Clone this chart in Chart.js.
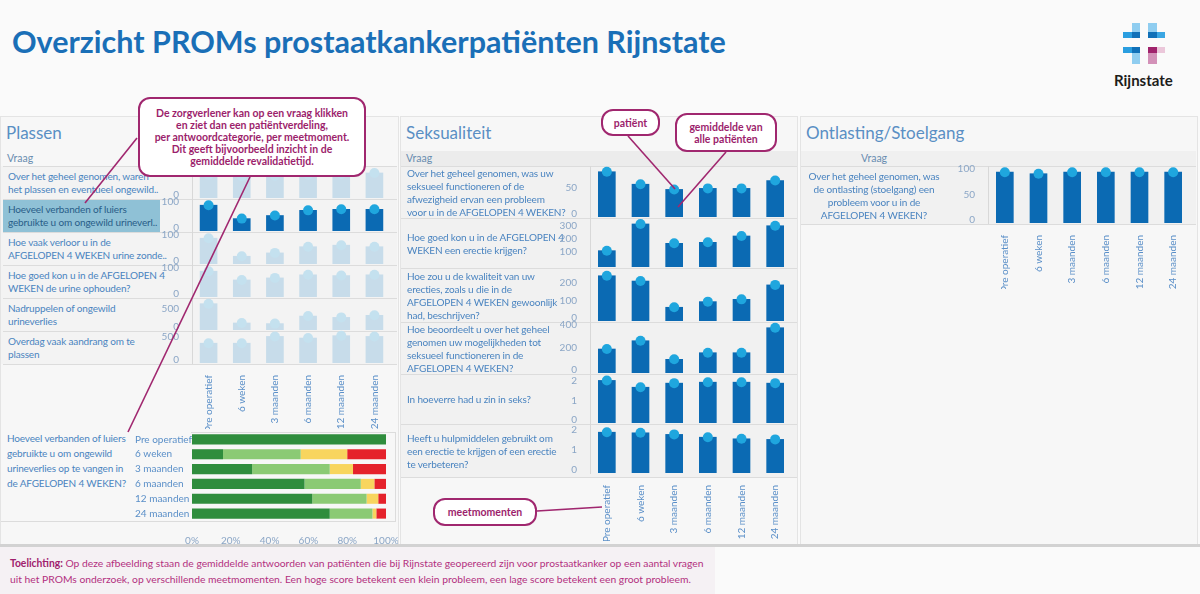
<!DOCTYPE html>
<html lang="nl">
<head>
<meta charset="utf-8">
<title>Overzicht PROMs prostaatkankerpatiënten Rijnstate</title>
<script src="https://cdn.jsdelivr.net/npm/chart.js@4.4.1/dist/chart.umd.min.js"></script>
<style>
  html, body { margin: 0; padding: 0; }
  body { width: 1200px; height: 594px; overflow: hidden; background: #fafafa; font-family: Lato, "Open Sans", sans-serif; }
  #board { position: relative; width: 1200px; height: 594px; }
  .q { display: flex; align-items: center; box-sizing: border-box; font-size: 10px; letter-spacing: -0.15px; line-height: 13px; color: #4a84c0; white-space: nowrap; }
  .callout { box-sizing: border-box; border: 2px solid #a0276f; border-radius: 12px; background: #fff; color: #9c1e6c;
             font-weight: bold; font-size: 10.5px; line-height: 12px; text-align: center; display: flex; align-items: center; justify-content: center; }
</style>
</head>
<body>
<div id="board"></div>
<script>
// meetmomenten (x-as)
const meetmomenten = ['Pre operatief', '6 weken', '3 maanden', '6 maanden', '12 maanden', '24 maanden'];

// Plassen - gemiddelde per meetmoment
const plassenAlgemeen    = [90, 84, 86, 90, 92, 97];
const plassenVerbanden   = [100, 48, 60, 80, 84, 84];
const plassenVerloor     = [100, 30, 43, 67, 73, 67];
const plassenOphouden    = [100, 66, 74, 86, 83, 86];
const plassenNadruppelen = [716, 191, 174, 379, 343, 399];
const plassenAandrang    = [427, 427, 573, 538, 589, 573];

// Seksualiteit
const seksProbleem      = [87, 63, 53, 55, 55, 70];
const seksErectie       = [129, 340, 187, 195, 245, 326];
const seksKwaliteit     = [257, 227, 78, 110, 123, 205];
const seksMogelijkheden = [214, 288, 122, 181, 181, 404];
const seksZin           = [2.19, 1.84, 2.05, 2.1, 2.1, 2.05];
const seksHulpmiddelen  = [2.04, 2.01, 1.93, 1.79, 1.71, 1.68];

// Ontlasting/Stoelgang
const ontlastingProbleem = [99, 96, 99, 99, 99, 99];

// patiëntverdeling verbanden/luiers (%)
const verbandenGeen       = [100, 16, 31, 58, 62, 71];
const verbandenEen        = [0, 40, 40, 29, 28, 22];
const verbandenTwee       = [0, 24, 12, 7, 6, 2];
const verbandenDrieOfMeer = [0, 20, 17, 6, 4, 5];

// tick labels
const ticks100  = [0, 100];
const ticks500  = [0, 500];
const ticks50   = [0, 50];
const ticks300  = [100, 200, 300];
const ticks200  = [0, 100, 200];
const ticks400  = [0, 200, 400];
const ticks2    = [0, 1, 2];
const ticks50b  = [0, 50, 100];
const procent   = [0, 20, 40, 60, 80, 100];

const board = document.getElementById('board');
function el(css, html, cls) {
  const e = document.createElement('div');
  e.style.cssText = 'position:absolute;' + css;
  if (cls) e.className = cls;
  if (html != null) e.innerHTML = html;
  board.appendChild(e);
  return e;
}
// schaal lettergrootte zodat de tekst de breedte uit het origineel krijgt
function fitWidth(e, w) {
  const fs = parseFloat(getComputedStyle(e).fontSize);
  const nw = e.getBoundingClientRect().width;
  const nfs = fs * w / nw;
  e.style.fontSize = nfs + 'px';
  return nfs;
}

// ---- header ----
const title = el('left:12px;top:26px;font-weight:bold;font-size:30px;line-height:30px;color:#1a6fb7;white-space:nowrap;',
   'Overzicht PROMs prostaatkankerpatiënten Rijnstate');
fitWidth(title, 714);

// logo
const logoParts = [
  [1123, 32, 9, 5.5, '#2a9ee0'], [1132, 23, 8, 9, '#8fcdf0'], [1132, 32, 8, 5.5, '#1070b8'],
  [1148, 23, 8.5, 9, '#8fcdf0'], [1156.5, 32, 8.5, 5.5, '#3aa6e3'], [1148, 32, 8.5, 5.5, '#1070b8'],
  [1123, 47, 9, 5.5, '#2a9ee0'], [1132, 52.5, 8, 11, '#8fcdf0'], [1132, 47, 8, 5.5, '#1070b8'],
  [1148, 52.5, 8.5, 11, '#d391b8'], [1156.5, 47, 8.5, 5.5, '#ebc7da'], [1148, 47, 8.5, 5.5, '#a0226c']
];
logoParts.forEach(p => el(`left:${p[0]}px;top:${p[1]}px;width:${p[2]}px;height:${p[3]}px;background:${p[4]};`));
el('left:1114px;top:72px;font-weight:bold;font-size:15px;line-height:17px;color:#1d1d1b;', 'Rijnstate');

// ---- panels ----
el('left:0;top:116px;width:397px;height:428px;background:#f7f7f7;border:1px solid #e4e4e4;');
el('left:400px;top:116px;width:396px;height:428px;background:#f7f7f7;border:1px solid #e4e4e4;');
el('left:800px;top:116px;width:396px;height:428px;background:#f7f7f7;border:1px solid #e4e4e4;');

el('left:401px;top:151px;width:396px;height:15px;background:#ececec;');
el('left:401px;top:166px;width:396px;height:311px;background:#f1f1f1;');
el('left:801px;top:151px;width:395px;height:15px;background:#f0f0f0;');
el('left:801px;top:166px;width:395px;height:58px;background:#f1f1f1;');
el('left:1px;top:166px;width:396px;height:198px;background:#f3f3f3;');

el('left:6px;top:125px;font-size:17px;line-height:16px;color:#5a8fc4;', 'Plassen');
el('left:406px;top:125px;font-size:17px;line-height:16px;color:#5a8fc4;', 'Seksualiteit');
el('left:806px;top:125px;font-size:17px;line-height:16px;color:#5a8fc4;', 'Ontlasting/Stoelgang');
el('left:7px;top:152px;font-size:10.5px;line-height:13px;color:#6a8db0;', 'Vraag');
el('left:406px;top:152px;font-size:10.5px;line-height:13px;color:#6a8db0;', 'Vraag');
el('left:800px;top:152px;width:148px;text-align:center;font-size:10.5px;line-height:13px;color:#6a8db0;', 'Vraag');

// ---- mini bar charts ----
function miniBar(o) {
  const padTop = 8, padBot = 8;
  const areaH = o.bottom - o.top;
  const h = padTop + areaH + (o.xH ? o.xH : padBot);
  const cv = document.createElement('canvas');
  cv.width = o.plotRight - o.axisLeft;
  cv.height = h;
  cv.style.cssText = `position:absolute;left:${o.axisLeft}px;top:${o.top - padTop}px;`;
  board.appendChild(cv);
  const bar = o.faded ? '#c7dcea' : '#0b6ab3';
  const dot = o.faded ? '#c4e1ef' : '#1fa6de';
  new Chart(cv, {
    type: 'bar',
    data: {
      labels: meetmomenten,
      datasets: [
        { type: 'line', data: o.data, showLine: false, pointRadius: 5, pointHoverRadius: 5,
          pointBackgroundColor: dot, pointBorderWidth: 0, clip: false, order: 0 },
        { data: o.data, backgroundColor: bar, barThickness: 17, order: 1 }
      ]
    },
    options: {
      responsive: false, animation: false, devicePixelRatio: 1,
      layout: { padding: { top: padTop, bottom: o.xH ? 0 : padBot, left: 0, right: 0 } },
      plugins: { legend: { display: false }, tooltip: { enabled: false } },
      scales: {
        x: {
          display: !!o.xH, offset: true, grid: { display: false }, border: { display: false },
          ticks: { color: '#5a8fc8', font: { family: 'Lato', size: 10 }, minRotation: 90, maxRotation: 90, padding: 4, autoSkip: false },
          afterFit(s) { s.height = o.xH || 0; s.paddingLeft = 0; s.paddingRight = 0; }
        },
        y: {
          min: 0, max: o.max, grid: { display: false }, border: { display: true, color: '#d8d8d8' },
          ticks: { color: '#8ba6c6', font: { family: 'Lato', size: 10 }, padding: 5, labelOffset: -3 },
          afterBuildTicks(s) { s.ticks = o.ticks.map(v => ({ value: v })); },
          afterFit(s) { s.width = o.plotLeft - o.axisLeft; s.paddingTop = 0; s.paddingBottom = 0; }
        }
      }
    }
  });
}

function rowLine(x, y, w) { el(`left:${x}px;top:${y}px;width:${w}px;height:1px;background:#dcdcdc;`); }

// Plassen
const plassenVragen = [
  'Over het geheel genomen, waren<br>het plassen en eventueel ongewild..',
  'Hoeveel verbanden of luiers<br>gebruikte u om ongewild urineverl..',
  'Hoe vaak verloor u in de<br>AFGELOPEN 4 WEKEN urine zonde..',
  'Hoe goed kon u in de AFGELOPEN 4<br>WEKEN de urine ophouden?',
  'Nadruppelen of ongewild<br>urineverlies',
  'Overdag vaak aandrang om te<br>plassen'
];
const plassenData  = [plassenAlgemeen, plassenVerbanden, plassenVerloor, plassenOphouden, plassenNadruppelen, plassenAandrang];
const plassenMax   = [124, 124, 124, 124, 870, 690];
const plassenTicks = [ticks100, ticks100, ticks100, ticks100, ticks500, ticks500];
const plassenGrens = [166, 199, 232, 265, 298, 331, 364];

plassenGrens.forEach(y => rowLine(3, y, 394));
plassenVragen.forEach((q, i) => {
  const t = plassenGrens[i], b = plassenGrens[i + 1];
  const hl = i === 1;
  el(`left:3px;top:${t + 1}px;width:157px;height:${b - t - 1}px;padding-left:5px;` +
     (hl ? 'background:#8fc1d6;color:#285d88;' : ''), q, 'q');
});
plassenData.forEach((d, i) => {
  const last = i === plassenData.length - 1;
  miniBar({ axisLeft: 160, plotLeft: 192, plotRight: 396, top: plassenGrens[i], bottom: plassenGrens[i + 1] - 1,
            data: d, max: plassenMax[i], ticks: plassenTicks[i], faded: i !== 1, xH: last ? 66 : 0 });
});

// Seksualiteit
const seksVragen = [
  'Over het geheel genomen, was uw<br>seksueel functioneren of de<br>afwezigheid ervan een probleem<br>voor u in de AFGELOPEN 4 WEKEN?',
  'Hoe goed kon u in de AFGELOPEN 4<br>WEKEN een erectie krijgen?',
  'Hoe zou u de kwaliteit van uw<br>erecties, zoals u die in de<br>AFGELOPEN 4 WEKEN gewoonlijk<br>had, beschrijven?',
  'Hoe beoordeelt u over het geheel<br>genomen uw mogelijkheden tot<br>seksueel functioneren in de<br>AFGELOPEN 4 WEKEN?',
  'In hoeverre had u zin in seks?',
  'Heeft u hulpmiddelen gebruikt om<br>een erectie te krijgen of een erectie<br>te verbeteren?'
];
const seksData  = [seksProbleem, seksErectie, seksKwaliteit, seksMogelijkheden, seksZin, seksHulpmiddelen];
const seksMax   = [98, 387, 301, 455, 2.52, 2.45];
const seksTicks = [ticks50, ticks300, ticks200, ticks400, ticks2, ticks2];
const seksGrens = [166, 218, 268, 322, 374, 424, 477];

seksGrens.forEach(y => rowLine(401, y, 396));
seksVragen.forEach((q, i) => {
  const t = seksGrens[i], b = seksGrens[i + 1];
  el(`left:402px;top:${t + 1}px;width:168px;height:${b - t - 1}px;padding-left:5px;`, q, 'q');
});
seksData.forEach((d, i) => {
  const last = i === seksData.length - 1;
  const b = last ? 473 : seksGrens[i + 1] - 1;
  miniBar({ axisLeft: 560, plotLeft: 590, plotRight: 797, top: seksGrens[i], bottom: b,
            data: d, max: seksMax[i], ticks: seksTicks[i], faded: false, xH: last ? 72 : 0 });
});

// Ontlasting
rowLine(801, 166, 395);
rowLine(801, 224, 395);
el('left:800px;top:167px;width:148px;height:57px;justify-content:center;text-align:center;',
   'Over het geheel genomen, was<br>de ontlasting (stoelgang) een<br>probleem voor u in de<br>AFGELOPEN 4 WEKEN?', 'q');
miniBar({ axisLeft: 955, plotLeft: 988, plotRight: 1195, top: 166, bottom: 223,
          data: ontlastingProbleem, max: 111, ticks: ticks50b, faded: false, xH: 66 });

// ---- patiëntverdeling ----
el('left:191px;top:432px;width:204px;height:1px;background:#dcdcdc;');
el('left:395px;top:432px;width:1px;height:90px;background:#dcdcdc;');
el('left:1px;top:521px;width:395px;height:1px;background:#dcdcdc;');
el('left:3px;top:431px;width:128px;padding-left:4px;line-height:15px;', 'Hoeveel verbanden of luiers<br>gebruikte u om ongewild<br>urineverlies op te vangen in<br>de AFGELOPEN 4 WEKEN?', 'q');

const cvS = document.createElement('canvas');
cvS.width = 263; cvS.height = 119;
cvS.style.cssText = 'position:absolute;left:135px;top:426px;';
board.appendChild(cvS);
new Chart(cvS, {
  type: 'bar',
  data: {
    labels: meetmomenten,
    datasets: [
      { label: 'Geen', data: verbandenGeen, backgroundColor: '#2f8d3d' },
      { label: '1 per dag', data: verbandenEen, backgroundColor: '#8bca74' },
      { label: '2 per dag', data: verbandenTwee, backgroundColor: '#f8d55e' },
      { label: '3 of meer per dag', data: verbandenDrieOfMeer, backgroundColor: '#e5222b' }
    ]
  },
  options: {
    indexAxis: 'y', responsive: false, animation: false, devicePixelRatio: 1,
    layout: { padding: { top: 6, right: 12, left: 0, bottom: 0 } },
    datasets: { bar: { barPercentage: 0.68, categoryPercentage: 1 } },
    plugins: { legend: { display: false }, tooltip: { enabled: false } },
    scales: {
      x: {
        stacked: true, min: 0, max: 100, grid: { display: false }, border: { display: false },
        afterBuildTicks(s) { s.ticks = procent.map(v => ({ value: v })); },
        ticks: { callback: v => v + '%', color: '#8ba6c6', font: { family: 'Lato', size: 10 }, padding: 6, maxRotation: 0, autoSkip: false },
        afterFit(s) { s.height = 24; s.paddingLeft = 0; s.paddingRight = 0; }
      },
      y: {
        stacked: true, grid: { display: false }, border: { display: false },
        ticks: { color: '#5a8fc8', font: { family: 'Lato', size: 10 }, crossAlign: 'far', padding: 0, autoSkip: false },
        afterFit(s) { s.width = 57; s.paddingTop = 0; s.paddingBottom = 0; }
      }
    }
  }
});

// ---- footer ----
el('left:0;top:544px;width:1200px;height:3px;background:#d2d2d2;');
el('left:0;top:547px;width:715px;height:47px;background:#f5f1f4;');
const f1 = el('left:10px;top:555px;font-size:11px;line-height:16px;color:#b3307f;white-space:nowrap;',
   '<b style="color:#a0206d">Toelichting:</b> Op deze afbeelding staan de gemiddelde antwoorden van patiënten die bij Rijnstate geopereerd zijn voor prostaatkanker op een aantal vragen');
const fs = fitWidth(f1, 694);
el(`left:10px;top:571px;font-size:${fs}px;line-height:16px;color:#b3307f;white-space:nowrap;`,
   'uit het PROMs onderzoek, op verschillende meetmomenten. Een hoge score betekent een klein probleem, een lage score betekent een groot probleem.');

// ---- annotaties ----
const svgNS = 'http://www.w3.org/2000/svg';
const svg = document.createElementNS(svgNS, 'svg');
svg.setAttribute('width', 1200); svg.setAttribute('height', 594);
svg.style.cssText = 'position:absolute;left:0;top:0;pointer-events:none;';
[[137, 138, 85, 203], [250, 177, 128, 432], [628, 136, 675, 189], [726, 152, 678, 207], [537, 511, 602, 507]].forEach(l => {
  const ln = document.createElementNS(svgNS, 'line');
  ln.setAttribute('x1', l[0]); ln.setAttribute('y1', l[1]); ln.setAttribute('x2', l[2]); ln.setAttribute('y2', l[3]);
  ln.setAttribute('stroke', '#a0276f'); ln.setAttribute('stroke-width', '1.6');
  svg.appendChild(ln);
});
board.appendChild(svg);

el('left:138px;top:97px;width:228px;height:80px;', 'De zorgverlener kan op een vraag klikken<br>en ziet dan een patiëntverdeling,<br>per antwoordcategorie, per meetmoment.<br>Dit geeft bijvoorbeeld inzicht in de<br>gemiddelde revalidatietijd.', 'callout');
el('left:601px;top:109px;width:59px;height:27px;', 'patiënt', 'callout');
el('left:675px;top:113px;width:102px;height:39px;', 'gemiddelde van<br>alle patiënten', 'callout');
el('left:433px;top:498px;width:104px;height:28px;', 'meetmomenten', 'callout');
</script>
</body>
</html>
